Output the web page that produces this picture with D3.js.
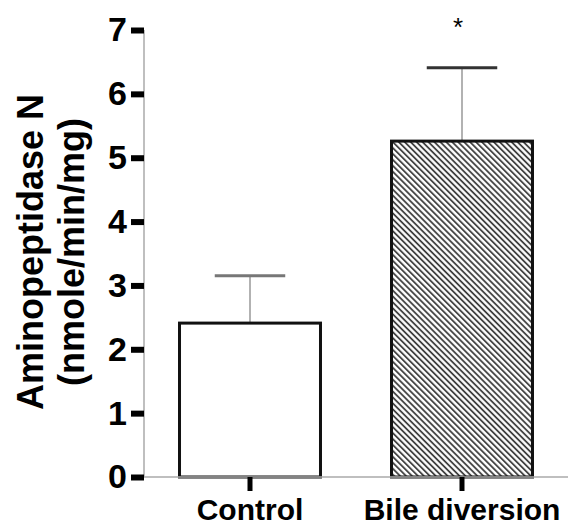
<!DOCTYPE html>
<html>
<head>
<meta charset="utf-8">
<script src="https://cdn.jsdelivr.net/npm/d3@7"></script>
<style>
  body { margin: 0; background: #fff; }
  text { font-family: "Liberation Sans", Arial, sans-serif; }
</style>
</head>
<body>
<div id="vis"></div>
<script>
// chart values
const groups = ["Control", "Bile diversion"];
const means = [2.41, 5.26];
const upper = [3.15, 6.41];
const yTicks = [0, 1, 2, 3, 4, 5, 6, 7];
const marks = ["", "*"];

const W = 571, H = 527;
const x0 = 144, x1 = 568, yTop = 30, yBase = 477;

const svg = d3.select('#vis').append('svg')
  .attr('width', W).attr('height', H);

const defs = svg.append('defs');
const pat = defs.append('pattern')
  .attr('id', 'hatch')
  .attr('patternUnits', 'userSpaceOnUse')
  .attr('width', 4.2).attr('height', 10)
  .attr('patternTransform', 'rotate(-45)');
pat.append('rect').attr('width', 4.2).attr('height', 10).attr('fill', '#fff');
pat.append('line')
  .attr('x1', 1).attr('x2', 1).attr('y1', 0).attr('y2', 10)
  .attr('stroke', '#333').attr('stroke-width', 1.7);

const xScale = d3.scaleBand()
  .domain(groups)
  .range([x0, x1])
  .paddingInner(0.335)
  .paddingOuter(0.1675);

const yScale = d3.scaleLinear()
  .domain([0, 7])
  .range([yBase, yTop]);

const data = groups.map((g, i) => ({ g, mean: means[i], up: upper[i], mark: marks[i], i }));
const bw = xScale.bandwidth();

// error bars (behind bars)
svg.selectAll('.stem').data(data).enter().append('line')
  .attr('x1', d => xScale(d.g) + bw / 2)
  .attr('x2', d => xScale(d.g) + bw / 2)
  .attr('y1', d => yScale(d.mean))
  .attr('y2', d => yScale(d.up))
  .attr('stroke', '#999').attr('stroke-width', 1.5);

svg.selectAll('.cap').data(data).enter().append('line')
  .attr('x1', d => xScale(d.g) + bw / 4)
  .attr('x2', d => xScale(d.g) + bw * 3 / 4)
  .attr('y1', d => yScale(d.up))
  .attr('y2', d => yScale(d.up))
  .attr('stroke', d => d.i === 0 ? '#777' : '#333').attr('stroke-width', 3);

// bars
svg.selectAll('.bar').data(data).enter().append('rect')
  .attr('x', d => xScale(d.g))
  .attr('y', d => yScale(d.mean))
  .attr('width', bw)
  .attr('height', d => yScale(0) - yScale(d.mean))
  .attr('fill', d => d.i === 0 ? '#fff' : 'url(#hatch)')
  .attr('stroke', '#111').attr('stroke-width', 3);

svg.selectAll('.mark').data(data).enter().append('text')
  .attr('x', d => xScale(d.g) + bw / 2 - 4)
  .attr('y', d => yScale(d.up) - 32)
  .attr('text-anchor', 'middle')
  .attr('font-size', 26)
  .text(d => d.mark);

// y axis
const gy = svg.append('g').attr('transform', `translate(${x0},0)`)
  .call(d3.axisLeft(yScale).tickValues(yTicks).tickFormat(d3.format('d'))
    .tickSize(13).tickPadding(4));
gy.select('.domain').attr('stroke', '#aaa').attr('stroke-width', 1.5)
  .attr('d', `M0,${yTop}V${yBase}`);
gy.selectAll('.tick line').attr('stroke', '#000').attr('stroke-width', 6);
gy.selectAll('.tick text')
  .attr('font-size', 34).attr('font-weight', 'bold').attr('fill', '#000')
  .attr('font-family', '"Liberation Sans", Arial, sans-serif');

// x axis
const gx = svg.append('g').attr('transform', `translate(0,${yBase})`)
  .call(d3.axisBottom(xScale).tickSize(14).tickPadding(8));
gx.select('.domain').attr('stroke', '#aaa').attr('stroke-width', 1.5)
  .attr('d', `M${x0},0H${x1}`);
gx.selectAll('.tick line').attr('stroke', '#000').attr('stroke-width', 5);
gx.selectAll('.tick text')
  .attr('font-size', 30).attr('font-weight', 'bold').attr('fill', '#000')
  .attr('font-family', '"Liberation Sans", Arial, sans-serif');

// y label
const yl = svg.append('text')
  .attr('transform', 'translate(43,252) rotate(-90)')
  .attr('text-anchor', 'middle')
  .attr('font-size', 36).attr('font-weight', 'bold');
yl.append('tspan').attr('x', 0).attr('y', 0).text('Aminopeptidase N');
yl.append('tspan').attr('x', 0).attr('y', 41).text('(nmole/min/mg)');
</script>
</body>
</html>
